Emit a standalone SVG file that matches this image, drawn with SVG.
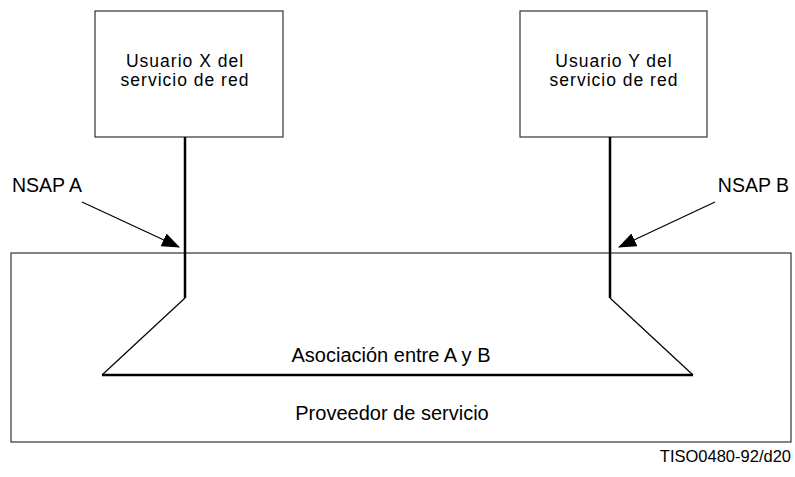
<svg xmlns="http://www.w3.org/2000/svg" width="795" height="477" viewBox="0 0 795 477">
<style>
.box{fill:#fff;stroke:#333;stroke-width:1.2}
.t{font-family:"Liberation Sans",Arial,sans-serif;font-size:20px;fill:#000}
.bt{font-family:"Liberation Sans",Arial,sans-serif;font-size:19.5px;fill:#000}
.ut{font-family:"Liberation Sans",Arial,sans-serif;font-size:17.5px;letter-spacing:1px;fill:#000}
.small{font-family:"Liberation Sans",Arial,sans-serif;font-size:16.5px;fill:#000}
.thick{fill:none;stroke:#000;stroke-width:2.5}
.thin{fill:none;stroke:#000;stroke-width:1.2}
</style>
<defs>
<marker id="ah" markerWidth="18" markerHeight="14" refX="17" refY="7" orient="auto" markerUnits="userSpaceOnUse">
<path d="M0,0 L18,7 L0,14 z" fill="#000"/>
</marker>
</defs>
<g id="proveedor">
<rect class="box" x="11" y="253" width="780" height="189"/>
<text class="t" x="392" y="420" text-anchor="middle">Proveedor de servicio</text>
</g>
<g id="usuarioX">
<rect class="box" x="95" y="11" width="188" height="126"/>
<text class="ut" x="185" y="66.5" text-anchor="middle">Usuario X del</text>
<text class="ut" x="185" y="86" text-anchor="middle">servicio de red</text>
</g>
<g id="usuarioY">
<rect class="box" x="520" y="11" width="187" height="126"/>
<text class="ut" x="614" y="66.5" text-anchor="middle">Usuario Y del</text>
<text class="ut" x="614" y="86" text-anchor="middle">servicio de red</text>
</g>
<g id="connectors">
<polyline class="thick" points="185,137 185,298"/>
<line class="thin" x1="185" y1="298" x2="102" y2="375"/>
<line class="thick" x1="102" y1="375" x2="693" y2="375"/>
<polyline class="thick" points="610,137 610,298"/>
<line class="thin" x1="610" y1="298" x2="693" y2="375"/>
<line class="thin" x1="82" y1="202" x2="179" y2="247" marker-end="url(#ah)" stroke-width="1.5"/>
<line class="thin" x1="715" y1="202" x2="619" y2="247" marker-end="url(#ah)" stroke-width="1.5"/>
</g>
<g id="labels">
<text class="bt" x="12" y="192">NSAP A</text>
<text class="bt" x="789" y="192" text-anchor="end">NSAP B</text>
<text class="t" x="391" y="362" text-anchor="middle">Asociación entre A y B</text>
<text class="small" x="791" y="462" text-anchor="end">TISO0480-92/d20</text>
</g>
</svg>
